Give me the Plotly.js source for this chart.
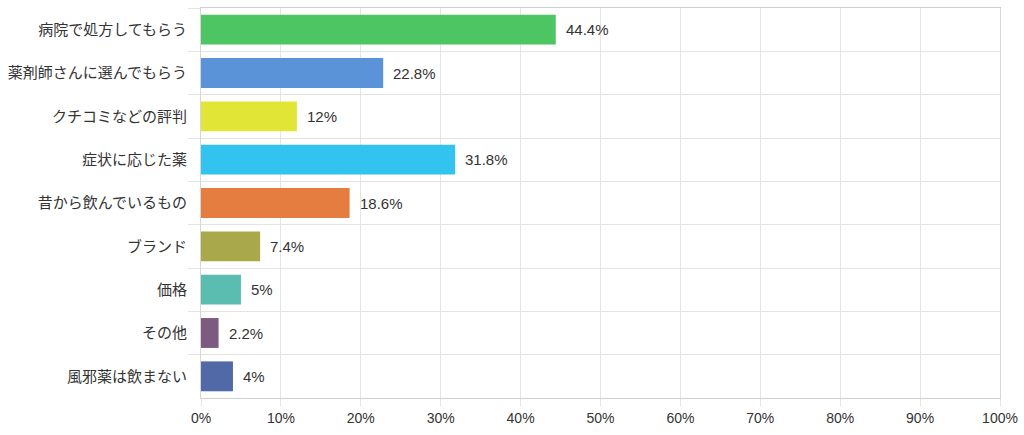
<!DOCTYPE html>
<html>
<head>
<meta charset="utf-8">
<script src="https://cdn.plot.ly/plotly-3.0.1.min.js"></script>
<style>html,body{margin:0;padding:0;background:#fff;}#chart{width:1024px;height:435px;}</style>
</head>
<body>
<div id="chart"></div>
<script>
const categories = ["病院で処方してもらう","薬剤師さんに選んでもらう","クチコミなどの評判","症状に応じた薬","昔から飲んでいるもの","ブランド","価格","その他","風邪薬は飲まない"];
const values = [44.4, 22.8, 12, 31.8, 18.6, 7.4, 5, 2.2, 4];
const colors = ["#4DC563","#5B93D9","#E1E536","#33C3EF","#E67D40","#A9A84A","#5BBCB0","#7D5A80","#5269A8"];
const tickVals = [0,10,20,30,40,50,60,70,80,90,100];
const tickText = tickVals.map(v => v + "%");

const FONT = "Liberation Sans, Arial, Noto Sans CJK JP, sans-serif";

const trace = {
  type: "bar",
  orientation: "h",
  y: categories,
  x: values,
  marker: {color: colors, line: {width: 0}},
  hoverinfo: "none"
};

const annotations = categories.map((c, i) => ({
  x: values[i], y: c, xref: "x", yref: "y",
  text: values[i] + "%", showarrow: false,
  xanchor: "left", xshift: 8,
  font: {family: FONT, size: 15, color: "#333"}
}));

const layout = {
  width: 1024, height: 435,
  margin: {l: 201, r: 24, t: 8, b: 37},
  paper_bgcolor: "#fff", plot_bgcolor: "#fff",
  showlegend: false,
  bargap: 0.31,
  font: {family: FONT, size: 14, color: "#333"},
  xaxis: {
    range: [0, 100], tickvals: tickVals, ticktext: tickText,
    showgrid: true, gridcolor: "#e4e4e4", gridwidth: 1,
    zeroline: false, showline: true, linecolor: "#cfcfcf", linewidth: 1, mirror: true,
    ticks: "outside", ticklen: 7, tickcolor: "#e4e4e4",
    tickfont: {family: FONT, size: 14, color: "#333"}, fixedrange: true
  },
  yaxis: {
    type: "category", autorange: "reversed",
    tickson: "boundaries", ticks: "outside", ticklen: 12, tickcolor: "#e4e4e4",
    ticklabelstandoff: 10,
    showgrid: true, gridcolor: "#e4e4e4", gridwidth: 1,
    showline: true, linecolor: "#d6d6d6", linewidth: 1, mirror: true,
    tickfont: {family: FONT, size: 15, color: "#333"}, fixedrange: true
  },
  annotations: annotations
};

Plotly.newPlot("chart", [trace], layout, {displayModeBar: false, staticPlot: true});
</script>
</body>
</html>
